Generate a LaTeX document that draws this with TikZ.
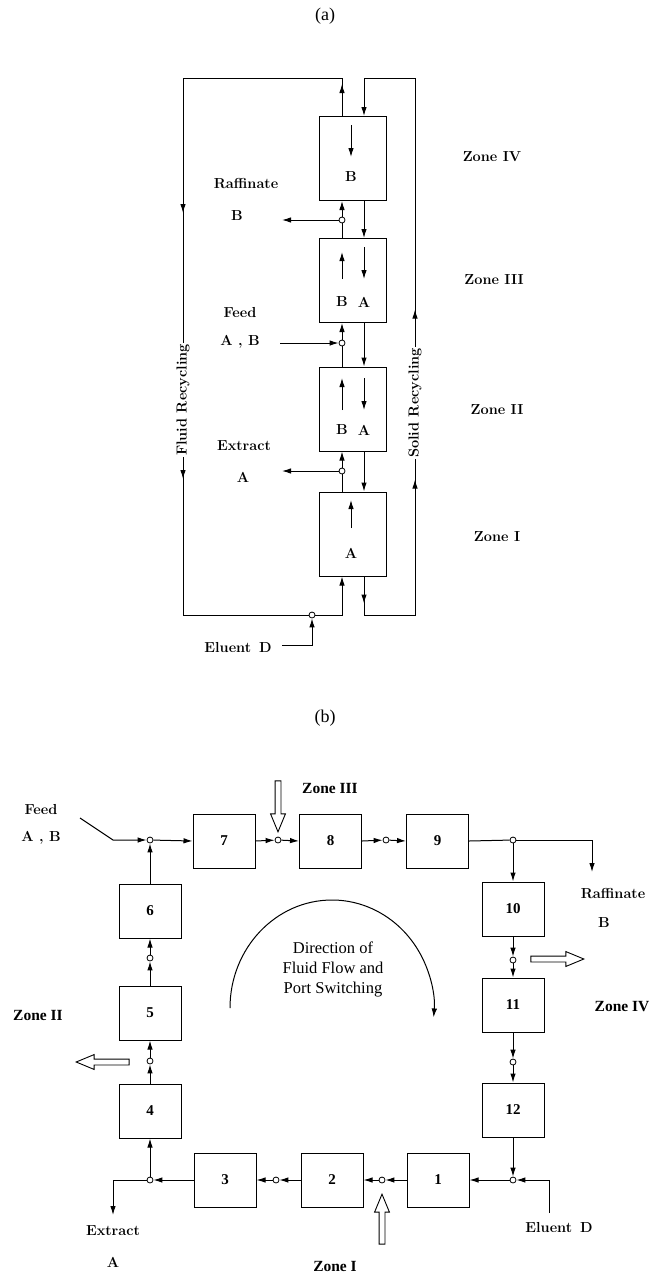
\documentclass[tikz,border=0pt]{standalone}
\usepackage{fontspec}
\newfontfamily\timesfont{Liberation Serif}
\usetikzlibrary{arrows.meta, calc, shapes.arrows, decorations.markings}

\begin{document}
\begin{tikzpicture}[x=1pt, y=-1pt, line width=1pt,
  lbl/.style={font=\fontsize{14.5}{17}\selectfont\bfseries},
  zonelbl/.style={font=\timesfont\fontsize{15.5}{18}\selectfont\bfseries},
  column/.style={draw, minimum width=67pt, minimum height=84pt, inner sep=0pt},
  cell/.style={draw, minimum width=62pt, minimum height=54pt, inner sep=0pt, font=\timesfont\fontsize{15}{18}\selectfont\bfseries},
  port/.style={circle, draw, fill=white, inner sep=0pt, minimum size=6pt, line width=0.8pt},
  flow/.style={-{Latex[length=9pt, width=5.5pt]}},
  arrowat/.style={postaction={decorate, decoration={markings, mark=at position #1 with {\arrow{Latex[length=9pt, width=5.5pt]}}}}},
  hollow/.style={single arrow, draw, fill=white, inner sep=2.5pt, minimum width=14pt, single arrow head extend=4.5pt, single arrow tip angle=45, line width=0.9pt}
]
  \useasboundingbox (0,0) rectangle (650,1275);

  % ---------------- (a) four zones ----------------
  \node[font=\timesfont\fontsize{18}{20}\selectfont] (tita) at (325,16) {(a)};
  \node[column] (zIV) at (352.5,158.5) {};
  \node[column] (zIII) at (352.5,280.5) {};
  \node[column] (zII) at (352.5,409) {};
  \node[column] (zI) at (352.5,534) {};
  \coordinate (Lx) at (342,0);
  \coordinate (Rx) at (364,0);

  % ports on the fluid side
  \node[port] (praf) at (342,220) {};
  \node[port] (pfeed) at (342,343) {};
  \node[port] (pext) at (342,471) {};
  \node[port] (pelu) at (312,615) {};

  % fluid recycling loop
  \coordinate (ftr) at (342,78);
  \coordinate (ftl) at (183,78);
  \coordinate (fbl) at (183,615);
  \coordinate (fbr) at (342,615);
  \draw[arrowat=32pt, arrowat=332pt, arrowat=598pt] (zIV.north -| Lx) -- (ftr) -- (ftl) -- (fbl) -- (pelu);
  \draw[flow] (pelu) -- (fbr) -- (zI.south -| Lx);
  \draw (zI.north -| Lx) -- (pext);
  \draw[flow] (pext) -- (zII.south -| Lx);
  \draw (zII.north -| Lx) -- (pfeed);
  \draw[flow] (pfeed) -- (zIII.south -| Lx);
  \draw (zIII.north -| Lx) -- (praf);
  \draw[flow] (praf) -- (zIV.south -| Lx);

  % solid recycling loop
  \coordinate (sbl) at (364,615);
  \coordinate (sbr) at (415,615);
  \coordinate (str) at (415,78);
  \coordinate (stl) at (364,78);
  \draw[flow, arrowat=27pt, arrowat=225pt, arrowat=395pt] (zI.south -| Rx) -- (sbl) -- (sbr) -- (str) -- (stl) -- (zIV.north -| Rx);
  \draw[flow] (zIV.south -| Rx) -- (zIII.north -| Rx);
  \draw[flow] (zIII.south -| Rx) -- (zII.north -| Rx);
  \draw[flow] (zII.south -| Rx) -- (zI.north -| Rx);

  % inlets and outlets
  \coordinate (rafout) at (282,220);
  \coordinate (feedin) at (280,343);
  \coordinate (extout) at (282,471);
  \coordinate (eluin) at (282,645);
  \draw[flow] (praf) -- (rafout);
  \draw[flow] (feedin) -- (pfeed);
  \draw[flow] (pext) -- (extout);
  \draw[flow] (eluin) -| (pelu);

  % arrows and species inside the columns
  \draw[flow] (351,125) -- (351,157);
  \draw[flow] (342,279) -- (342,252);
  \draw[flow] (364,247) -- (364,279);
  \draw[flow] (342,410) -- (342,378);
  \draw[flow] (364,378) -- (364,410);
  \draw[flow] (351,528) -- (351,500);
  \node[lbl] at (351,177) {B};
  \node[lbl] at (342,302) {B};
  \node[lbl] at (364,302) {A};
  \node[lbl] at (342,430) {B};
  \node[lbl] at (364,430) {A};
  \node[lbl] at (351,553) {A};

  % labels
  \node[lbl, fill=white, inner sep=1pt, rotate=90] at (183,400) {Fluid Recycling};
  \node[lbl, fill=white, inner sep=1pt, rotate=90] at (415,403) {Solid Recycling};
  \node[lbl] at (246,184) {Raffinate};
  \node[lbl] at (237,216) {B};
  \node[lbl] at (240,313) {Feed};
  \node[lbl] at (240,342) {A , B};
  \node[lbl] at (244,446) {Extract};
  \node[lbl] at (243,477) {A};
  \node[lbl] at (238,648) {Eluent\, D};
  \node[lbl] at (492,157) {Zone IV};
  \node[lbl] at (494,280) {Zone III};
  \node[lbl] at (497,410) {Zone II};
  \node[lbl] at (497,537) {Zone I};

  % ---------------- (b) twelve columns ----------------
  \node[font=\timesfont\fontsize{18}{20}\selectfont] (titb) at (325,718) {(b)};
  \node[cell] (c7) at (224,841) {7};
  \node[cell] (c8) at (330.5,841) {8};
  \node[cell] (c9) at (437.5,841) {9};
  \node[cell] (c10) at (513,909) {10};
  \node[cell] (c11) at (513,1005) {11};
  \node[cell] (c12) at (513,1110) {12};
  \node[cell] (c1) at (438,1180) {1};
  \node[cell] (c2) at (332,1180) {2};
  \node[cell] (c3) at (225,1180) {3};
  \node[cell] (c4) at (150,1111) {4};
  \node[cell] (c5) at (150,1013) {5};
  \node[cell] (c6) at (150,911) {6};

  \node[port] (qfeed) at (150,840) {};
  \node[port] (q78) at (278,840) {};
  \node[port] (q89) at (386,840) {};
  \node[port] (qraf) at (513,840) {};
  \node[port] (q1011) at (513,960) {};
  \node[port] (q1112) at (513,1062) {};
  \node[port] (qelu) at (513,1180) {};
  \node[port] (q12) at (382,1180) {};
  \node[port] (q23) at (276,1180) {};
  \node[port] (qext) at (150,1180) {};
  \node[port] (q45) at (150,1061) {};
  \node[port] (q56) at (150,958) {};

  % ring of columns
  \draw[flow] (c6.north) -- (qfeed);
  \draw[flow] (qfeed) -- (c7.west);
  \draw[flow] (c7.east) -- (q78);
  \draw[flow] (q78) -- (c8.west);
  \draw[flow] (c8.east) -- (q89);
  \draw[flow] (q89) -- (c9.west);
  \draw (c9.east) -- (qraf);
  \draw[flow] (qraf) -- (c10.north);
  \draw[flow] (c10.south) -- (q1011);
  \draw[flow] (q1011) -- (c11.north);
  \draw[flow] (c11.south) -- (q1112);
  \draw[flow] (q1112) -- (c12.north);
  \draw[flow] (c12.south) -- (qelu);
  \draw[flow] (qelu) -- (c1.east);
  \draw[flow] (c1.west) -- (q12);
  \draw[flow] (q12) -- (c2.east);
  \draw[flow] (c2.west) -- (q23);
  \draw[flow] (q23) -- (c3.east);
  \draw[flow] (c3.west) -- (qext);
  \draw[flow] (qext) -- (c4.south);
  \draw[flow] (c4.north) -- (q45);
  \draw[flow] (q45) -- (c5.south);
  \draw[flow] (c5.north) -- (q56);
  \draw[flow] (q56) -- (c6.south);

  % feed and product lines
  \coordinate (bfeedin) at (80,818);
  \coordinate (bfeedk) at (113,840);
  \coordinate (brafout) at (592,872);
  \coordinate (beluin) at (549,1213);
  \coordinate (bextout) at (113,1215);
  \draw[flow] (bfeedin) -- (bfeedk) -- (qfeed);
  \draw[flow] (qraf) -| (brafout);
  \draw[flow] (beluin) |- (qelu);
  \draw[flow] (qext) -| (bextout);

  % port switching arrows
  \node[hollow, rotate=-90, anchor=tip, minimum height=51pt] (hIII) at (278,833) {};
  \node[hollow, rotate=0, anchor=tip, minimum height=53pt] (hIV) at (585,959) {};
  \node[hollow, rotate=180, anchor=tip, minimum height=53pt] (hII) at (75,1062) {};
  \node[hollow, rotate=90, anchor=tip, minimum height=50pt] (hI) at (382,1193) {};

  % direction of flow
  \coordinate (arcst) at (230,1008);
  \draw[flow] (arcst) arc[start angle=180, end angle=365, x radius=102, y radius=108];
  \node[align=center, font=\timesfont\fontsize{16.5}{20}\selectfont] (dir) at (333,969) {Direction of\\Fluid Flow and\\Port Switching};

  % labels
  \node[lbl] at (41,810) {Feed};
  \node[lbl] at (41,838) {A , B};
  \node[lbl] at (613,893) {Raffinate};
  \node[lbl] at (604,923) {B};
  \node[lbl] at (113,1231) {Extract};
  \node[lbl] at (113,1262) {A};
  \node[lbl] at (559,1227) {Eluent\, D};
  \node[zonelbl] at (330,788) {Zone III};
  \node[zonelbl] at (622,1007) {Zone IV};
  \node[zonelbl] at (38,1015) {Zone II};
  \node[zonelbl] at (335,1266) {Zone I};
\end{tikzpicture}
\end{document}
